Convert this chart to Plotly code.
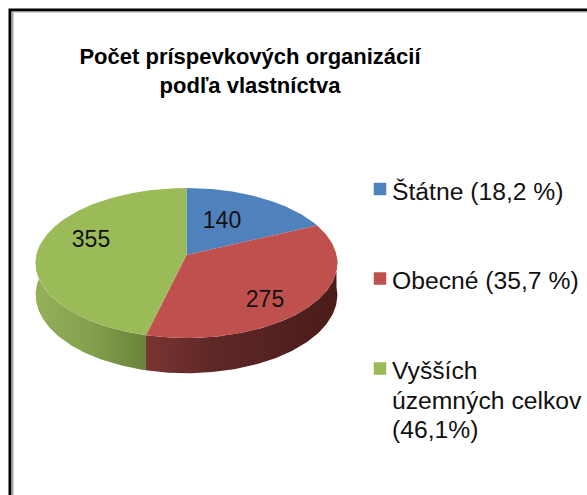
import numpy as np
import plotly.graph_objects as go

# --- data ---
categories = ["Štátne", "Obecné", "Vyšších územných celkov"]
values = [140, 275, 355]
legend_lines = [["Štátne (18,2 %)"], ["Obecné (35,7 %)"], ["Vyšších", "územných celkov", "(46,1%)"]]
title_text = "Počet príspevkových organizácií<br>podľa vlastníctva"

# --- style ---
top_colors = ["#4F81BD", "#C0504D", "#9BBB59"]
side_scales = [
    None,
    [[0, "#7A3431"], [0.35, "#5E2826"], [1, "#4A1C1A"]],
    [[0, "#94B05A"], [0.5, "#84A04E"], [1, "#6A8239"]],
]
W, H = 587, 495
CX, CY, RX, RY, K, DEPTH = 186.5, 255.0, 150.0, 74.1, 0.1065, 31.5
FONT = "Liberation Sans, Arial, sans-serif"


def rim(theta, drop=0.0):
    """Project a clockwise-from-top pie angle on to the tilted disc."""
    v = np.cos(theta)
    s = 1.0 / (1.0 + K * v)
    return CX + RX * np.sin(theta) * s, CY - RY * v * s + drop * s


edges = np.cumsum([0] + values) / sum(values) * 2 * np.pi
fig = go.Figure()

# side walls (only the part of each slice facing the viewer)
for i in range(len(values)):
    lo, hi = max(edges[i], np.pi / 2), min(edges[i + 1], 1.5 * np.pi + 0.15)
    if hi <= lo or side_scales[i] is None:
        continue
    t = np.linspace(lo, hi, 120)
    x1, y1 = rim(t)
    x2, y2 = rim(t[::-1], DEPTH)
    fig.add_trace(go.Scatter(
        x=np.r_[x1, x2], y=np.r_[y1, y2], mode="lines", fill="toself",
        line=dict(width=0), hoverinfo="skip", showlegend=False,
        fillgradient=dict(type="horizontal", colorscale=side_scales[i]),
    ))

# top faces
for i, cat in enumerate(categories):
    t = np.linspace(edges[i], edges[i + 1], 200)
    x, y = rim(t)
    fig.add_trace(go.Scatter(
        x=np.r_[CX, x, CX], y=np.r_[CY, y, CY], mode="lines", fill="toself",
        fillcolor=top_colors[i], line=dict(width=0, color=top_colors[i]),
        name=cat, hoverinfo="skip", showlegend=False,
    ))

# data labels
label_xy = [(222, 222), (265, 301), (91, 241)]
fig.add_trace(go.Scatter(
    x=[p[0] for p in label_xy], y=[p[1] for p in label_xy],
    mode="text", text=[str(v) for v in values], textposition="middle center",
    textfont=dict(family=FONT, size=23, color="#111111"),
    hoverinfo="skip", showlegend=False,
))

# legend swatches and texts
swatch_y = [189, 278.5, 368.5]
line_y = [[191], [280], [370, 400, 429]]
fig.add_trace(go.Scatter(
    x=[380, 380, 380], y=swatch_y, mode="markers",
    marker=dict(symbol="square", size=12.5, color=top_colors, line=dict(width=0)),
    hoverinfo="skip", showlegend=False,
))
for lines, ys in zip(legend_lines, line_y):
    for lab, y in zip(lines, ys):
        fig.add_annotation(
            x=391, y=y, xref="x", yref="y", xanchor="left", yanchor="middle",
            text=lab, showarrow=False, align="left", borderpad=0,
            font=dict(family=FONT, size=24.7, color="#111111"),
        )

# frame
fig.add_shape(type="rect", x0=10, y0=10, x1=W + 20, y1=H + 20, xref="x", yref="y",
              line=dict(color="#000000", width=3), layer="above")
fig.add_shape(type="line", x0=12.5, y0=11.7, x1=12.5, y1=H + 20, xref="x", yref="y",
              line=dict(color="#A6A6A6", width=2), layer="above")
fig.add_shape(type="line", x0=12, y0=12, x1=W + 20, y1=12, xref="x", yref="y",
              line=dict(color="#A6A6A6", width=1), layer="above")

fig.update_layout(
    width=W, height=H, autosize=False,
    margin=dict(l=0, r=0, t=0, b=0),
    paper_bgcolor="white", plot_bgcolor="white",
    title=dict(text=title_text, x=250 / W, xanchor="center", xref="paper",
               y=1 - 64 / H, yanchor="top", yref="container",
               font=dict(family=FONT, size=22, color="#000000", weight="bold")),
    xaxis=dict(range=[0, W], visible=False, fixedrange=True),
    yaxis=dict(range=[H, 0], visible=False, fixedrange=True),
    showlegend=False,
)
fig.write_html(
    "out.html", config=dict(displayModeBar=False),
    post_script="document.body.style.margin='0';document.documentElement.style.overflow='hidden';",
)
